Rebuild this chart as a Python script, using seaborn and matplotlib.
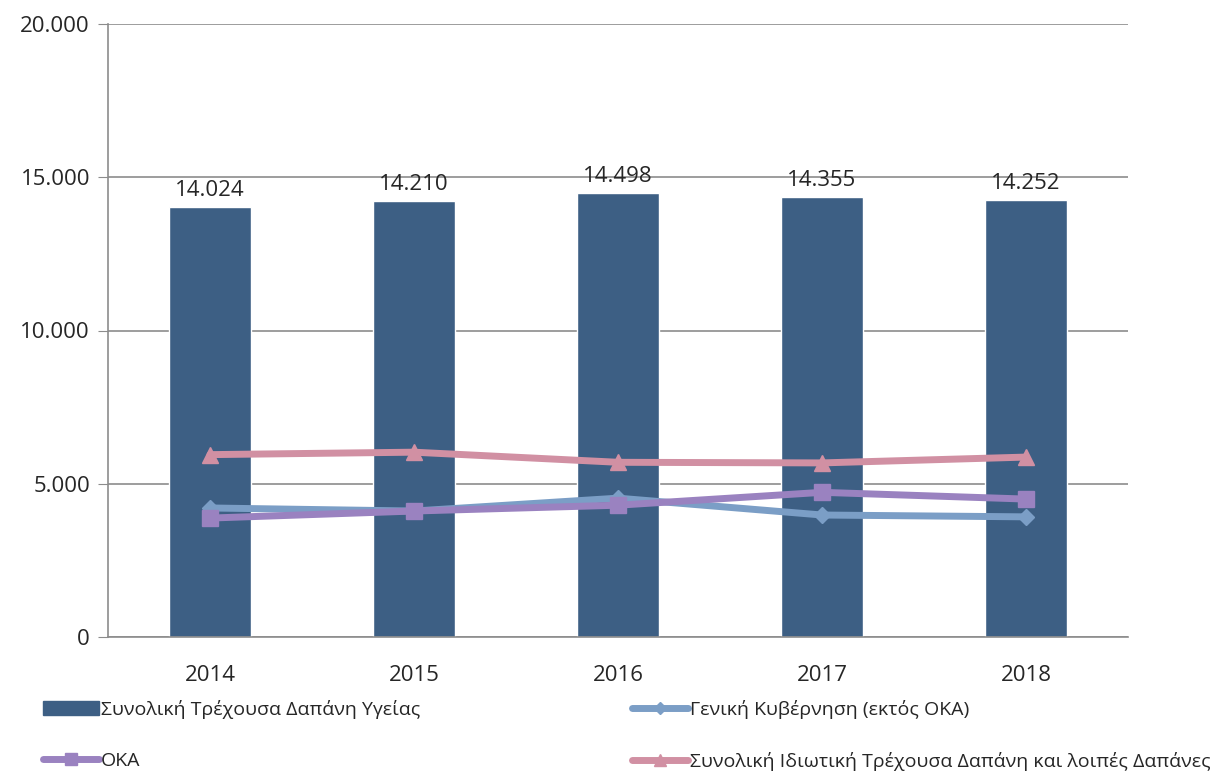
import pandas as pd
import matplotlib
matplotlib.use('Agg')
import matplotlib.pyplot as plt
import seaborn as sns
from matplotlib.patches import Patch
from matplotlib.lines import Line2D

years = ['2014', '2015', '2016', '2017', '2018']
total = [14024, 14210, 14498, 14355, 14252]
gen_gov = [4210, 4110, 4530, 3980, 3920]
oka = [3880, 4110, 4300, 4720, 4500]
private = [5950, 6030, 5700, 5680, 5870]

lbl_total = 'Συνολική Τρέχουσα Δαπάνη Υγείας'
lbl_gen = 'Γενική Κυβέρνηση (εκτός ΟΚΑ)'
lbl_oka = 'ΟΚΑ'
lbl_priv = 'Συνολική Ιδιωτική Τρέχουσα Δαπάνη και λοιπές Δαπάνες'

c_bar = '#3d5f84'
c_gen = '#7b9ec6'
c_oka = '#9a82c0'
c_priv = '#d190a3'

sns.set_style('white')
plt.rcParams['font.family'] = ['Open Sans', 'DejaVu Sans']

df = pd.DataFrame({'year': years, 'total': total, 'gen': gen_gov, 'oka': oka, 'priv': private})

fig = plt.figure(figsize=(12.23, 7.73), dpi=100)
ax = fig.add_axes([108 / 1223, 1 - 637 / 773, (1128 - 108) / 1223, (637 - 24) / 773])

sns.barplot(data=df, x='year', y='total', color=c_bar, width=0.4, saturation=1, ax=ax)
for col, c, m, ms in [('gen', c_gen, 'D', 8), ('oka', c_oka, 's', 11), ('priv', c_priv, '^', 11)]:
    ax.plot(range(len(years)), df[col], color=c, lw=5, marker=m, markersize=ms, zorder=3)

for i, v in enumerate(total):
    ax.text(i, v + 200, f'{v:,}'.replace(',', '.'), ha='center', va='bottom', fontsize=16)

ax.set_ylim(0, 20000)
ax.set_xlim(-0.5, 4.5)
ax.set_yticks(range(0, 20001, 5000))
ax.set_yticklabels([f'{t:,}'.replace(',', '.') for t in range(0, 20001, 5000)], fontsize=16)
ax.tick_params(axis='x', labelsize=16, length=0, pad=20)
ax.tick_params(axis='y', left=True, length=7, color='#8c8c8c', pad=6)
ax.yaxis.grid(True, color='#8c8c8c', lw=1.2)
ax.set_axisbelow(True)
ax.set_xlabel('')
ax.set_ylabel('')
for s in ['top', 'right']:
    ax.spines[s].set_visible(False)
for s in ['left', 'bottom']:
    ax.spines[s].set_color('#8c8c8c')
    ax.spines[s].set_linewidth(1.2)

handles = [
    Patch(color=c_bar, label=lbl_total),
    Line2D([], [], color=c_oka, lw=5, marker='s', markersize=9, label=lbl_oka),
    Line2D([], [], color=c_gen, lw=5, marker='D', markersize=6, label=lbl_gen),
    Line2D([], [], color=c_priv, lw=5, marker='^', markersize=9, label=lbl_priv),
]
fig.legend(handles=handles, ncol=2, loc='lower left', bbox_to_anchor=(25 / 1223, -0.02),
           frameon=False, fontsize=14, handlelength=2.9, handletextpad=0.1,
           columnspacing=10.9, labelspacing=1.7)

fig.savefig('out.png', dpi=100)
